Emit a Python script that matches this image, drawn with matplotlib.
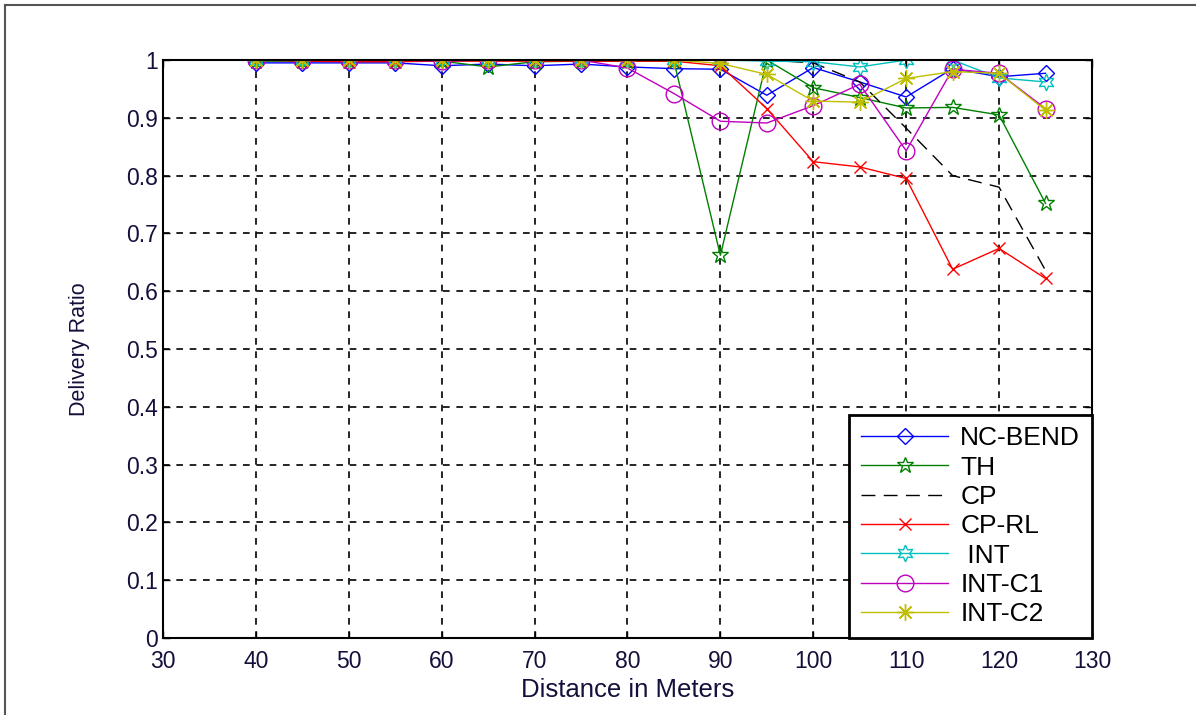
import matplotlib
matplotlib.use("Agg")
import matplotlib.pyplot as plt
from matplotlib.lines import Line2D

plt.rcParams['font.family'] = ['Liberation Sans', 'DejaVu Sans']

distance = [40, 45, 50, 55, 60, 65, 70, 75, 80, 85, 90, 95, 100, 105, 110, 115, 120, 125]

nc_bend = [0.995, 0.995, 0.995, 0.995, 0.99, 0.993, 0.99, 0.993, 0.988, 0.985,
           0.984, 0.939, 0.987, 0.962, 0.936, 0.985, 0.971, 0.977]
th = [0.998, 0.998, 0.998, 0.998, 0.998, 0.988, 0.997, 0.998, 0.998, 0.998,
      0.662, 1.0, 0.952, 0.935, 0.917, 0.918, 0.905, 0.752]
cp = [1.0, 1.0, 1.0, 1.0, 1.0, 1.0, 1.0, 1.0, 1.0, 1.0,
      1.0, 1.0, 0.995, 0.962, 0.882, 0.80, 0.78, 0.636]
cp_rl = [1.0, 0.998, 0.997, 0.997, 0.998, 0.998, 0.998, 0.998, 0.998, 0.998,
         0.99, 0.916, 0.824, 0.815, 0.795, 0.638, 0.674, 0.622]
int_ = [1.0, 1.0, 1.0, 1.0, 1.0, 1.0, 1.0, 1.0, 1.0, 1.0,
        1.0, 0.998, 0.997, 0.988, 1.0, 1.0, 0.969, 0.962]
int_c1 = [1.0, 1.0, 1.0, 1.0, 0.998, 1.0, 1.0, 1.0, 0.986, 0.942,
          0.894, 0.891, 0.921, 0.958, 0.843, 0.984, 0.977, 0.916]
int_c2 = [1.0, 1.0, 1.0, 1.0, 1.0, 1.0, 1.0, 1.0, 1.0, 1.0,
          0.994, 0.975, 0.929, 0.927, 0.968, 0.98, 0.977, 0.913]

series = [
    ('NC-BEND', nc_bend, 'blue', 'D', '-', 8),
    ('TH', th, 'green', '*', '-', 12),
    ('CP', cp, 'black', 'None', (0, (10, 6)), 8),
    ('CP-RL', cp_rl, 'red', 'x', '-', 8),
    (' INT', int_, '#00bfbf', (6, 1, 0), '-', 12),
    ('INT-C1', int_c1, '#bf00bf', 'o', '-', 12),
    ('INT-C2', int_c2, '#bfbf00', (8, 2, 0), '-', 12),
]

fig = plt.figure(figsize=(11.96, 7.15), dpi=100)
ax = fig.add_axes([0.1363, 0.1077, 0.7767, 0.8084])

for name, vals, col, mk, ls, ms in series:
    ax.plot(distance, vals, color=col, marker=mk, linestyle=ls, linewidth=1.0,
            markersize=ms, markerfacecolor='none', markeredgecolor=col,
            markeredgewidth=1.0, label=name)

ax.set_xlim(30, 130)
ax.set_ylim(0, 1)
ax.set_xticks(range(30, 131, 10))
ax.set_yticks([i / 10 for i in range(11)])
ax.set_yticklabels(['0', '0.1', '0.2', '0.3', '0.4', '0.5', '0.6', '0.7', '0.8', '0.9', '1'])
ax.grid(True, color='black', linestyle=(0, (4, 4)), linewidth=1.2)
ax.tick_params(direction='in', top=True, right=True, length=5, labelsize=16.5,
               labelcolor='#14103c', width=1)
ax.tick_params(axis='x', pad=9)
for s in ax.spines.values():
    s.set_linewidth(1.5)

ax.set_xlabel('Distance in Meters', fontsize=18.5, color='#14103c', labelpad=3)
ax.set_ylabel('Delivery Ratio', fontsize=15.5, color='#14103c', labelpad=26)

leg = ax.legend(loc='lower right', borderaxespad=0, fontsize=19, fancybox=False,
                edgecolor='black', framealpha=1, handlelength=3.3,
                handletextpad=0.45, labelspacing=0.2, borderpad=0.45)
leg.get_frame().set_linewidth(2)

# thin frame lines at the top and left of the picture
fig.add_artist(Line2D([0.004, 1], [0.993, 0.993], color='#555555', linewidth=1.5,
                      transform=fig.transFigure))
fig.add_artist(Line2D([0.004, 0.004], [0, 0.993], color='#555555', linewidth=1.5,
                      transform=fig.transFigure))

fig.savefig('out.png', dpi=100)
